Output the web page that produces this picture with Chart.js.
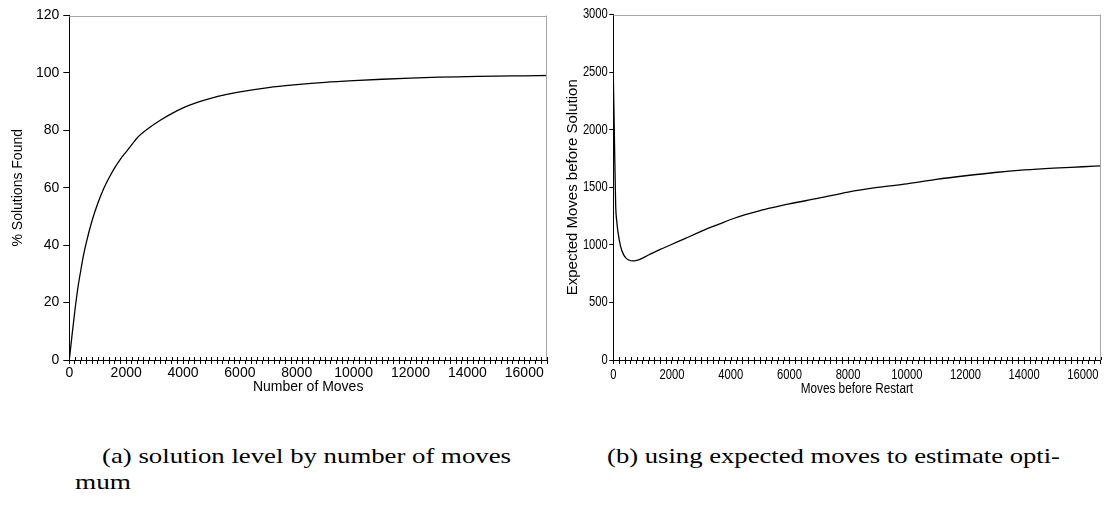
<!DOCTYPE html>
<html>
<head>
<meta charset="utf-8">
<script src="https://cdn.jsdelivr.net/npm/chart.js@4/dist/chart.umd.min.js"></script>
<style>
  html, body { margin: 0; padding: 0; background: #fff; }
  body { width: 1104px; height: 524px; position: relative; overflow: hidden; }
  .box { position: absolute; top: 0; height: 400px; }
  .cap { position: absolute; font-family: 'Liberation Serif', 'Times New Roman', serif; font-size: 21px;
         color: #000; white-space: nowrap; transform-origin: 0 0; line-height: 1; }
</style>
</head>
<body>
<div class="box" style="left:0;width:560px"><canvas id="chartA" width="560" height="400"></canvas></div>
<div class="box" style="left:560px;width:544px"><canvas id="chartB" width="544" height="400"></canvas></div>
<div class="cap" id="capA" data-w="409" style="left:102px;top:446px">(a) solution level by number of moves</div>
<div class="cap" id="capB" data-w="453" style="left:607px;top:446px">(b) using expected moves to estimate opti-</div>
<div class="cap" id="capM" data-w="56" style="left:75px;top:472px">mum</div>
<script>
// (a) % of runs solved after a given number of moves
const movesA = [0, 100, 200, 300, 400, 500, 600, 800, 1000, 1200, 1400, 1600, 1800, 2000, 2200, 2400,
  2800, 3200, 3600, 4000, 4500, 5000, 5500, 6000, 7000, 8000, 9000, 10000, 11000, 12000, 13000,
  14000, 15000, 16000, 16800];
const pctFound = [0, 9, 17.5, 25, 31, 36.5, 41, 48.5, 54.5, 59.5, 63.5, 67, 70, 72.5, 75, 77.5,
  80.8, 83.5, 85.8, 87.8, 89.7, 91.2, 92.4, 93.4, 94.9, 95.9, 96.7, 97.3, 97.8, 98.2, 98.5,
  98.7, 98.9, 99.0, 99.1];

// (b) expected moves before solution vs restart cutoff
const movesB = [0, 40, 80, 120, 160, 250, 350, 450, 550, 650, 800, 1000, 1200, 1600, 2000, 2400,
  2800, 3200, 3600, 4000, 4500, 5000, 5500, 6000, 7000, 8000, 9000, 10000, 11000, 12000, 13000,
  14000, 15000, 16000, 16600];
const expMoves = [2480, 1900, 1350, 1200, 1110, 985, 915, 880, 866, 860, 865, 885, 912, 960, 1005, 1050,
  1095, 1140, 1180, 1220, 1262, 1298, 1328, 1356, 1405, 1458, 1498, 1530, 1568, 1600, 1628,
  1650, 1666, 1678, 1686];

const xLabelStep = 2000;
const xMinorStep = 200;

const SANS = "'Liberation Sans', Arial, sans-serif";

const xLabel = v => (v % xLabelStep === 0 ? String(v) : '');

// grey top/right frame plus the upper half of the x tick marks (they cross the axis)
const frame = {
  id: 'frame',
  afterDraw(chart) {
    const {ctx, chartArea: a, scales: {x}} = chart;
    ctx.save();
    ctx.lineWidth = 1;
    ctx.strokeStyle = '#a6a6a6';
    ctx.beginPath();
    ctx.moveTo(a.left, Math.round(a.top) + 0.5);
    ctx.lineTo(a.right, Math.round(a.top) + 0.5);
    ctx.moveTo(Math.round(a.right) - 0.5, a.top);
    ctx.lineTo(Math.round(a.right) - 0.5, a.bottom);
    ctx.stroke();
    ctx.strokeStyle = '#000';
    ctx.beginPath();
    x.ticks.forEach((t, i) => {
      const px = Math.round(x.getPixelForTick(i)) + 0.5;
      ctx.moveTo(px, a.bottom - 3);
      ctx.lineTo(px, a.bottom);
    });
    ctx.stroke();
    ctx.restore();
  }
};

// chart (b) uses a squeezed sans for its tick labels and x title
function narrowText(ctx, text, px, py, size, squeeze, align, base) {
  ctx.save();
  ctx.translate(px, py);
  ctx.scale(squeeze, 1);
  ctx.font = size + 'px ' + SANS;
  ctx.fillStyle = '#000';
  ctx.textAlign = align;
  ctx.textBaseline = base;
  ctx.fillText(text, 0, 0);
  ctx.restore();
}

const narrowLabels = {
  id: 'narrowLabels',
  afterDraw(chart) {
    const {ctx, chartArea: a, scales: {x, y}} = chart;
    x.ticks.forEach((t, i) => {
      const lbl = xLabel(t.value);
      if (lbl) narrowText(ctx, lbl, x.getPixelForTick(i), a.bottom + 15, 14, 0.8, 'center', 'middle');
    });
    y.ticks.forEach((t, i) => {
      narrowText(ctx, String(t.value), a.left - 5.5, y.getPixelForTick(i), 14, 0.8, 'right', 'middle');
    });
    narrowText(ctx, 'Moves before Restart', (a.left + a.right) / 2, a.bottom + 29, 14, 0.84, 'center', 'middle');
  }
};

function makeChart(id, xs, ys, cfg) {
  const ctx = document.getElementById(id).getContext('2d');
  return new Chart(ctx, {
    type: 'line',
    data: {
      datasets: [{
        data: xs.map((m, i) => ({x: m, y: ys[i]})),
        borderColor: '#000',
        borderWidth: 1.3,
        pointRadius: 0,
        fill: false,
        cubicInterpolationMode: 'monotone'
      }]
    },
    options: {
      responsive: false,
      animation: false,
      devicePixelRatio: 1,
      layout: { padding: cfg.padding },
      plugins: { legend: { display: false }, tooltip: { enabled: false } },
      scales: {
        x: {
          type: 'linear',
          min: 0,
          max: cfg.xMax,
          afterFit: s => { s.height = 40; },
          border: { color: '#000', width: 1 },
          grid: { drawOnChartArea: false, tickLength: 4, color: '#000' },
          ticks: {
            display: cfg.builtInLabels,
            stepSize: xMinorStep,
            autoSkip: false,
            maxRotation: 0,
            padding: 1,
            color: '#000',
            font: { family: SANS, size: 14 },
            callback: xLabel
          },
          title: {
            display: cfg.builtInLabels,
            text: cfg.xTitle,
            color: '#000',
            padding: { top: 0, bottom: 4 },
            font: { family: SANS, size: 14 }
          }
        },
        y: {
          min: 0,
          max: cfg.yMax,
          afterFit: s => { s.width = cfg.yWidth; },
          border: { color: '#000', width: 1 },
          grid: { drawOnChartArea: false, tickLength: cfg.yTick, color: '#000' },
          ticks: {
            display: cfg.builtInLabels,
            stepSize: cfg.yStep,
            padding: cfg.yPad,
            color: '#000',
            font: { family: SANS, size: 14 },
            callback: v => String(v)
          },
          title: {
            display: true,
            text: cfg.yTitle,
            color: '#000',
            padding: { top: cfg.yTitlePad, bottom: 0 },
            font: { family: SANS, size: cfg.yTitleSize }
          }
        }
      }
    },
    plugins: cfg.builtInLabels ? [frame] : [frame, narrowLabels]
  });
}

makeChart('chartA', movesA, pctFound, {
  builtInLabels: true,
  padding: { top: 15.5, right: 13, left: 0, bottom: 0 },
  xMax: 16800, yMax: 120, yStep: 20,
  yWidth: 69.3, yTick: 6, yPad: 4, yTitlePad: 10, yTitleSize: 14,
  xTitle: 'Number of Moves', yTitle: '% Solutions Found'
});

makeChart('chartB', movesB, expMoves, {
  builtInLabels: false,
  padding: { top: 14.5, right: 3.5, left: 0, bottom: 0 },
  xMax: 16600, yMax: 3000, yStep: 500,
  yWidth: 53.3, yTick: 4, yPad: 1, yTitlePad: 4, yTitleSize: 15,
  xTitle: 'Moves before Restart', yTitle: 'Expected Moves before Solution'
});

// captions: stretch to the widths they take in the figure
document.querySelectorAll('.cap').forEach(el => {
  const w = el.getBoundingClientRect().width;
  el.style.transform = 'scaleX(' + (Number(el.dataset.w) / w) + ')';
});
</script>
</body>
</html>
